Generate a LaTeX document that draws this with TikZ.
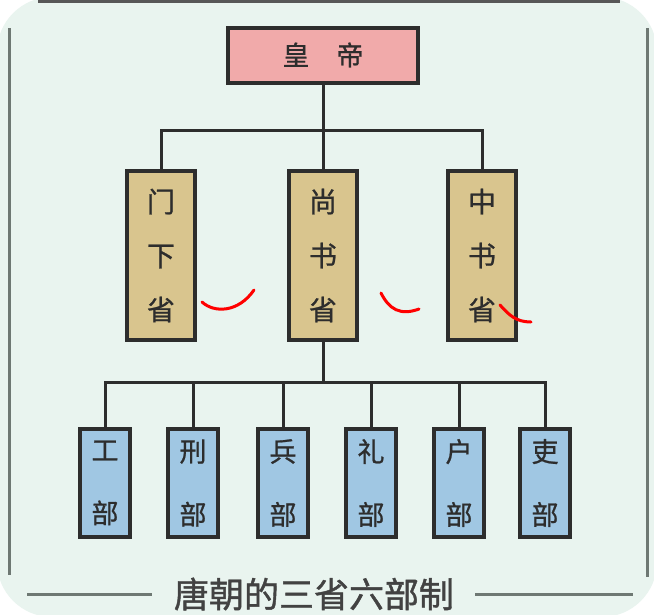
\documentclass[tikz,border=0pt]{standalone}
\usepackage{fontspec}
\newfontfamily\cjk{Noto Sans CJK SC}[FakeBold=0.8]
\newfontfamily\cjkt{Noto Sans CJK SC}[FakeBold=1.2]
\definecolor{panelbg}{RGB}{233,244,239}
\definecolor{framegray}{RGB}{110,120,115}
\definecolor{pinkbox}{RGB}{241,170,170}
\definecolor{tanbox}{RGB}{217,197,142}
\definecolor{bluebox}{RGB}{160,199,227}
\definecolor{inkgray}{RGB}{45,45,45}
\tikzset{
  emperor/.style={draw=inkgray, line width=4pt, fill=pinkbox, minimum width=190pt, minimum height=55pt,
    text=inkgray, font=\cjk\fontsize{27}{30}\selectfont},
  sheng/.style={draw=inkgray, line width=4pt, fill=tanbox, minimum width=68pt, minimum height=169pt,
    align=center, text=inkgray, font=\cjk\fontsize{28}{54}\selectfont},
  bu/.style={draw=inkgray, line width=4pt, fill=bluebox, minimum width=50pt, minimum height=108pt,
    align=center, text=inkgray, font=\cjk\fontsize{27}{63}\selectfont},
  link/.style={draw=inkgray, line width=3pt},
  frameline/.style={draw=framegray, line width=3pt},
  scribble/.style={draw=red, line width=3pt, line cap=round}
}
\begin{document}
\begin{tikzpicture}[x=1pt, y=-1pt]
  \useasboundingbox (0,0) rectangle (654,614);
  \fill[white] (0,0) rectangle (654,614);
  \fill[panelbg, rounded corners=55pt] (-3,-3) rectangle (657,617);

  % frame
  \draw[frameline, draw=inkgray!80] (38,1.5) -- (620,1.5);
  \draw[frameline] (9,28) -- (9,575);
  \draw[frameline] (647,28) -- (647,577);
  \draw[frameline] (27,594) -- (152,594);
  \draw[frameline] (475,594) -- (633,594);

  \node[emperor] (h0) at (323,55) {皇\hspace{1em}帝};

  \node[sheng] (s1) at (161,255.5) {门\\下\\省};
  \node[sheng] (s2) at (323,255.5) {尚\\书\\省};
  \node[sheng] (s3) at (482,255.5) {中\\书\\省};

  \node[bu] (d1) at (105,483) {工\\部};
  \node[bu] (d2) at (193,483) {刑\\部};
  \node[bu] (d3) at (283,483) {兵\\部};
  \node[bu] (d4) at (371,483) {礼\\部};
  \node[bu] (d5) at (459,483) {户\\部};
  \node[bu] (d6) at (545,483) {吏\\部};

  \node[text=inkgray!90, font=\cjkt\fontsize{35}{40}\selectfont] (tt) at (314,594) {唐朝的三省六部制};

  \coordinate (ja) at (323,130);
  \coordinate (jb) at (323,382);

  \draw[link] (h0) -- (s2);
  \draw[link] (ja) -| (s1);
  \draw[link] (ja) -| (s3);
  \draw[link] (s2) -- (jb);
  \draw[link] (jb) -| (d1);
  \draw[link] (jb) -| (d2);
  \draw[link] (jb) -| (d3);
  \draw[link] (jb) -| (d4);
  \draw[link] (jb) -| (d5);
  \draw[link] (jb) -| (d6);

  % red pen marks
  \draw[scribble] (202,302) .. controls (214,313) and (238,313) .. (254,290);
  \draw[scribble] (381,293) .. controls (389,309) and (400,316) .. (419,309);
  \draw[scribble] (500,305) .. controls (509,315) and (516,322) .. (531,322);
\end{tikzpicture}
\end{document}
